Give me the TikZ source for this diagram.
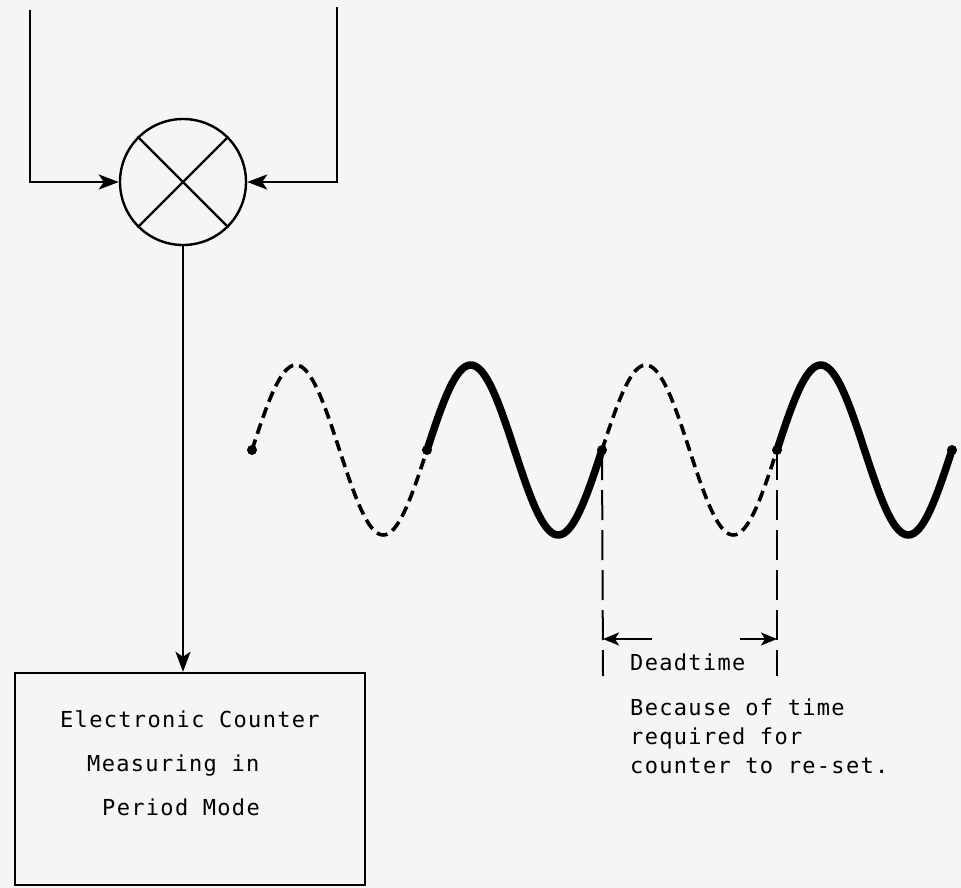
\documentclass[tikz,border=0pt]{standalone}
\usepackage{fontspec}
\usetikzlibrary{arrows.meta}
\newfontfamily\typefont{DejaVu Sans Mono}[LetterSpace=6]
\tikzset{
  wire/.style={line width=2.4pt},
  arr/.style={wire, -{Stealth[length=20pt, width=15pt, inset=5pt]}},
  darr/.style={line width=2pt, -{Stealth[length=16pt, width=13pt, inset=4pt]}},
  wavesolid/.style={line width=7.5pt, line cap=round, line join=round},
  wavedash/.style={line width=3.6pt, dash pattern=on 11pt off 6pt},
  guide/.style={line width=2pt, dash pattern=on 30pt off 10pt},
  wdot/.style={circle, fill=black, inner sep=0pt, minimum size=10pt},
  lbl/.style={font=\typefont\fontsize{22}{29}\selectfont, inner sep=0pt, align=left},
  boxlbl/.style={font=\typefont\fontsize{22}{44}\selectfont, inner sep=0pt, align=left},
}
\begin{document}
\begin{tikzpicture}[x=1pt, y=-1pt]
		%%%%% START %%%%%
		\useasboundingbox[fill=black!4] (0,0) rectangle (961,888);
		
		% mixer and its two inputs
		\node[wire, draw, circle, minimum size=126pt, inner sep=0pt] (mix) at (183,182) {};
		\draw[wire] (mix.135) -- (mix.315);
		\draw[wire] (mix.45) -- (mix.225);
		\coordinate (inL) at (30,10);
		\coordinate (inR) at (337,7);
		\draw[arr] (inL) |- (mix.west);
		\draw[arr] (inR) |- (mix.east);
		
		% counter
		\node[wire, draw, minimum width=350pt, minimum height=212pt, inner sep=0pt] (counter) at (190,779) {};
		\node[boxlbl, anchor=base west] (countertxt) at (60,815)
		  {Electronic Counter\\
		   \hspace*{27pt}Measuring in\\
		   \hspace*{42pt}Period Mode};
		\draw[arr] (mix.south) -- (mix.south |- counter.north);
		
		% waveform
		\draw[wavedash] plot[domain=252:427, samples=70] (\x, {450-85*sin((\x-252)/175*360)});
		\draw[wavesolid] plot[domain=427:602, samples=70] (\x, {450-85*sin((\x-252)/175*360)});
		\draw[wavedash] plot[domain=602:777, samples=70] (\x, {450-85*sin((\x-252)/175*360)});
		\draw[wavesolid] plot[domain=777:952, samples=70] (\x, {450-85*sin((\x-252)/175*360)});
		\foreach \px/\nm in {252/w0, 427/w1, 602/w2, 777/w3, 952/w4}
		  \node[wdot] (\nm) at (\px,450) {};
		
		% deadtime
		\coordinate (g2) at (603,676);
		\coordinate (g3) at (777,676);
		\draw[guide] (w2.center) -- (g2);
		\draw[guide] (w3.center) -- (g3);
		\coordinate (al) at (652,639);
		\coordinate (ar) at (740,639);
		\draw[darr] (al) -- (al -| g2);
		\draw[darr] (ar) -- (ar -| g3);
		\node[lbl, anchor=base west] (dead) at (630,670) {Deadtime};
		\node[lbl, anchor=base west] (because) at (630,773)
		  {Because of time\\required for\\counter to re-set.};
		
		%%%%% END %%%%%
	\end{tikzpicture}
\end{document}
